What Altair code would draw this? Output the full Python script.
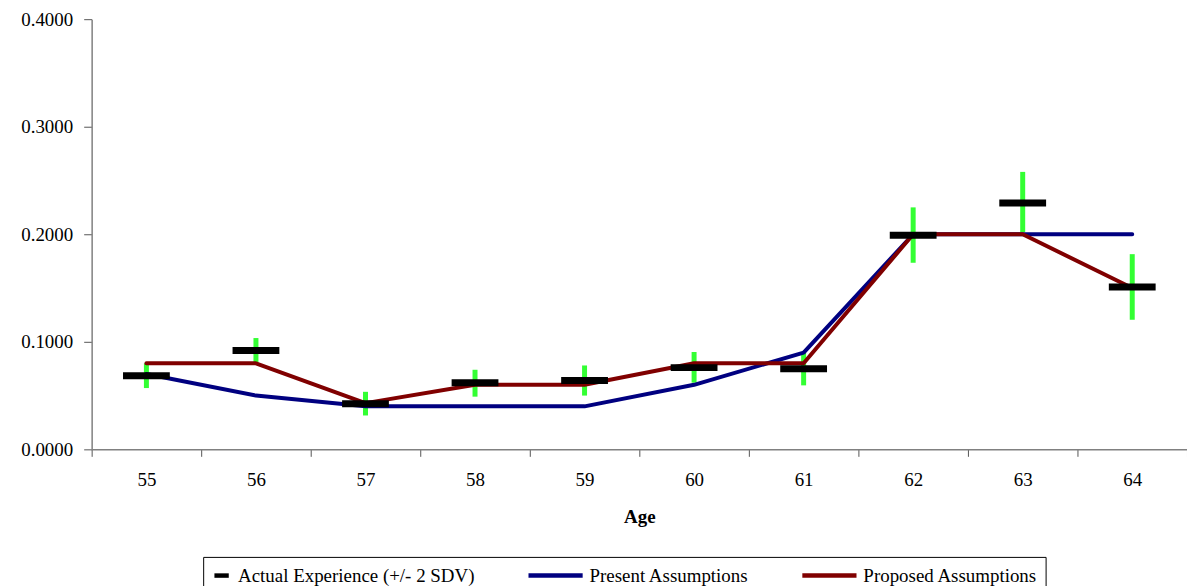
import altair as alt
import pandas as pd

ages = [55, 56, 57, 58, 59, 60, 61, 62, 63, 64]
actual = [0.0685, 0.092, 0.0425, 0.062, 0.064, 0.076, 0.075, 0.199, 0.229, 0.151]
err_low = [0.057, 0.081, 0.0315, 0.049, 0.050, 0.062, 0.0595, 0.1735, 0.202, 0.1205]
err_high = [0.080, 0.1035, 0.0535, 0.074, 0.078, 0.0905, 0.090, 0.225, 0.258, 0.1815]
present = [0.07, 0.05, 0.04, 0.04, 0.04, 0.06, 0.09, 0.20, 0.20, 0.20]
proposed = [0.08, 0.08, 0.043, 0.06, 0.06, 0.08, 0.08, 0.20, 0.20, 0.15]

series_names = ["Actual Experience (+/- 2 SDV)", "Present Assumptions", "Proposed Assumptions"]
series_colors = ["#000000", "#000080", "#800000"]
y_ticks = [0.0, 0.1, 0.2, 0.3, 0.4]

df_err = pd.DataFrame({"age": ages, "low": err_low, "high": err_high})
df_act = pd.DataFrame({"age": ages, "value": actual, "series": series_names[0]})
df_lines = pd.concat([
    pd.DataFrame({"age": ages, "value": present, "series": series_names[1]}),
    pd.DataFrame({"age": ages, "value": proposed, "series": series_names[2]}),
])

FONT = "Liberation Serif"

x_enc = alt.X(
    "age:O",
    title="Age",
    scale=alt.Scale(paddingInner=0, paddingOuter=0),
    axis=alt.Axis(labelAngle=0, tickBand="extent", tickSize=7, labelPadding=14,
                  titlePadding=18),
)
y_scale = alt.Scale(domain=[0, 0.4], nice=False)
y_axis = alt.Axis(values=y_ticks, format=".4f", tickSize=8, labelPadding=11, grid=False, title=None)

actual_expr = "'" + series_names[0] + "'"
legend = alt.Legend(
    title=None,
    orient="none",
    legendX=112,
    legendY=540,
    direction="horizontal",
    strokeColor="black",
    padding=8,
    labelFont=FONT,
    labelFontSize=19,
    labelColor="black",
    labelLimit=500,
    symbolType={"expr": "datum.value === " + actual_expr + " ? 'M-0.9,0H0.9' : 'M-5.6,0H1.2'"},
    symbolSize=256,
    symbolStrokeWidth=4.5,
    columnPadding=44,
    labelOffset=6,
)
color_enc = alt.Color(
    "series:N",
    scale=alt.Scale(domain=series_names, range=series_colors),
    legend=legend,
)

err = alt.Chart(df_err).mark_rule(strokeWidth=5, color="#33FF33").encode(
    x=x_enc,
    y=alt.Y("low:Q", scale=y_scale, axis=y_axis),
    y2="high:Q",
)

lines = alt.Chart(df_lines).mark_line(strokeWidth=4, strokeCap="round", strokeJoin="round").encode(
    x=x_enc,
    y=alt.Y("value:Q", scale=y_scale, axis=y_axis),
    color=color_enc,
)

ticks = alt.Chart(df_act).mark_tick(thickness=7, size=47, opacity=1).encode(
    x=x_enc,
    y=alt.Y("value:Q", scale=y_scale, axis=y_axis),
    color=color_enc,
)

chart = alt.layer(err, lines, ticks).properties(
    width=1100,
    height=432,
    autosize=alt.AutoSizeParams(type="none"),
    padding={"left": 84, "top": 10, "right": 0, "bottom": 136},
).configure_view(stroke=None).configure_axis(
    labelFont=FONT,
    labelFontSize=19,
    labelColor="black",
    titleFont=FONT,
    titleFontSize=19,
    titleColor="black",
    titleFontWeight="bold",
    domainColor="#808080",
    domainWidth=1.5,
    tickColor="#555555",
)

chart.save("out.html", embed_options={"renderer": "svg", "actions": False})
